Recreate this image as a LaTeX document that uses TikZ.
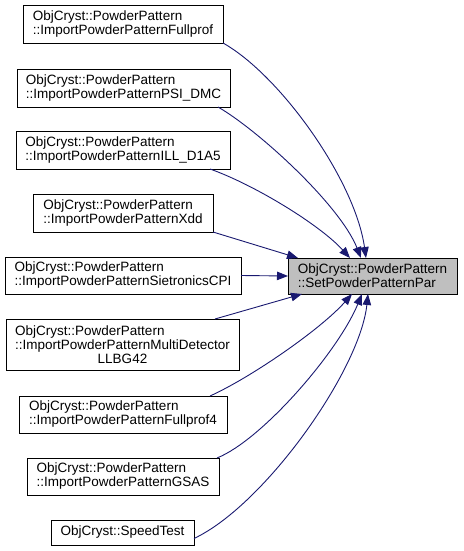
\documentclass[tikz,border=0pt]{standalone}
\usepackage{fontspec}
\setmainfont{Liberation Sans}
\usetikzlibrary{arrows.meta}
\definecolor{edgecol}{HTML}{191970}
\definecolor{mainfill}{HTML}{BFBFBF}
\tikzset{
  box/.style={draw=black, line width=0.9pt, inner sep=0pt, outer sep=0pt, align=left,
    font=\fontsize{13.5}{14}\selectfont},
  mainbox/.style={box, fill=mainfill},
  edge/.style={draw=edgecol, line width=0.9pt, -{Triangle[length=11pt,width=8.5pt]}},
}
\begin{document}
\begin{tikzpicture}[x=1pt,y=-1pt]
\useasboundingbox (0,0) rectangle (463,551);
\node[box, minimum width=200pt, minimum height=38pt] (n1) at (123,24)
  {ObjCryst::PowderPattern\\::ImportPowderPatternFullprof};
\node[box, minimum width=213pt, minimum height=38pt] (n2) at (123.5,88)
  {ObjCryst::PowderPattern\\::ImportPowderPatternPSI\_DMC};
\node[box, minimum width=214pt, minimum height=38pt] (n3) at (123,150)
  {ObjCryst::PowderPattern\\::ImportPowderPatternILL\_D1A5};
\node[box, minimum width=180pt, minimum height=38pt] (n4) at (123,213)
  {ObjCryst::PowderPattern\\::ImportPowderPatternXdd};
\node[box, minimum width=236pt, minimum height=37pt] (n5) at (123,275.5)
  {ObjCryst::PowderPattern\\::ImportPowderPatternSietronicsCPI};
\node[box, minimum width=233pt, minimum height=51pt] (n6) at (122.5,344.5)
  {ObjCryst::PowderPattern\\::ImportPowderPatternMultiDetector\\\hbox to 0pt{}\hfill LLBG42\hfill\hbox to 0pt{}};
\node[box, minimum width=208pt, minimum height=37pt] (n7) at (123,414.5)
  {ObjCryst::PowderPattern\\::ImportPowderPatternFullprof4};
\node[box, minimum width=192pt, minimum height=37pt] (n8) at (123,476.5)
  {ObjCryst::PowderPattern\\::ImportPowderPatternGSAS};
\node[box, minimum width=143pt, minimum height=25pt] (n9) at (122.5,532.5)
  {ObjCryst::SpeedTest};
\node[mainbox, minimum width=169pt, minimum height=36pt] (c) at (372.5,276)
  {ObjCryst::PowderPattern\\::SetPowderPatternPar};

\draw[edge] (n1.south east) .. controls (280,75) and (355,180) .. ([xshift=78pt]c.north west);
\draw[edge] ([xshift=-12pt]n2.south east) .. controls (258,130) and (340,205) .. ([xshift=73pt]c.north west);
\draw[edge] ([xshift=-20pt]n3.south east) .. controls (255,185) and (320,225) .. ([xshift=62pt]c.north west);
\draw[edge] (n4.south east) -- ([xshift=10pt]c.north west);
\draw[edge] (n5.east) -- (c.west);
\draw[edge] ([xshift=-24pt]n6.north east) -- ([xshift=14pt]c.south west);
\draw[edge] ([xshift=-17pt]n7.north east) .. controls (250,378) and (320,330) .. ([xshift=64pt]c.south west);
\draw[edge] ([xshift=-2pt]n8.north east) .. controls (262,440) and (338,352) .. ([xshift=74pt]c.south west);
\draw[edge] ([yshift=-6pt]n9.east) .. controls (265,505) and (360,370) .. ([xshift=80pt]c.south west);
\end{tikzpicture}
\end{document}
